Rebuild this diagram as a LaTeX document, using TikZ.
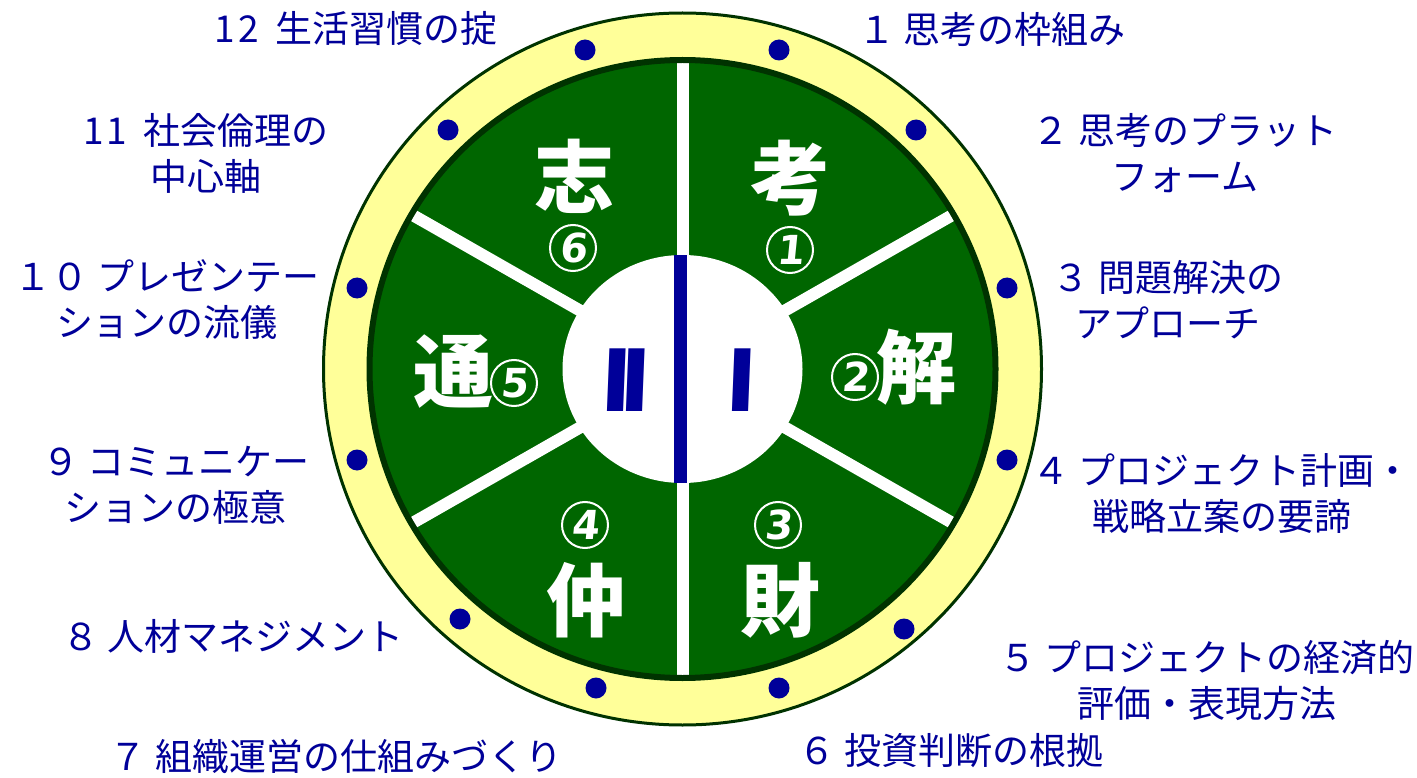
\documentclass[tikz,border=0pt]{standalone}
\usepackage{fontspec}
\newfontfamily\jp{Noto Sans CJK JP}
\newfontfamily\romfont[FakeSlant=0.04]{DejaVu Sans}
\newfontfamily\numfont[FakeSlant=0.1]{DejaVu Sans}
\definecolor{navy}{RGB}{0,0,153}
\definecolor{leaf}{RGB}{0,102,0}
\definecolor{deep}{RGB}{0,51,0}
\definecolor{cream}{RGB}{255,255,153}
\begin{document}
\begin{tikzpicture}[x=1pt,y=-1pt,
  lbl/.style={font=\jp\fontsize{37}{46}\selectfont, text=navy, align=center, inner sep=0pt},
  big/.style={font=\jp\bfseries\fontsize{80}{80}\selectfont, text=white, inner sep=0pt},
  num/.style={circle, draw=white, line width=2pt, minimum size=46pt, inner sep=0pt, text=white, font=\numfont\bfseries\fontsize{40}{40}\selectfont},
  dot/.style={circle, fill=navy, minimum size=21pt, inner sep=0pt},
  spoke/.style={draw=white, line width=12pt},
  roman/.style={font=\romfont\bfseries\fontsize{86}{86}\selectfont, text=navy, inner sep=0pt},
]
\useasboundingbox (0,0) rectangle (1417,778);
\fill[white] (0,0) rectangle (1417,778);
% outer ring
\draw[fill=cream, draw=deep, line width=3pt] (682.5,369) ellipse [x radius=359, y radius=356];
% green disk
\fill[leaf] (682.5,369) ellipse [x radius=313, y radius=309];
% spokes
\draw[spoke] (682.5,60) -- (682.5,678);
\draw[spoke] (682.5,369) -- (956,213);
\draw[spoke] (682.5,369) -- (956,525);
\draw[spoke] (682.5,369) -- (409,213);
\draw[spoke] (682.5,369) -- (409,525);
% dark border of green disk
\draw[deep, line width=6pt] (682.5,369) ellipse [x radius=313, y radius=309];
% centre
\fill[white] (682.5,369) ellipse [x radius=120, y radius=114];
\fill[navy] (674,255) rectangle (687,483);
\node[roman] (two) at (625,380) {I\kern-13pt I};
\node[roman] (one) at (740,380) {I};
% sector characters
\node[big] (k1) at (790,178) {考};
\node[num] (n1) at (790,250) {1};
\node[big] (k2) at (916,367) {解};
\node[num] (n2) at (855,377) {2};
\node[num] (n3) at (778,525) {3};
\node[big] (k3) at (780,600) {財};
\node[num] (n4) at (585,525) {4};
\node[big] (k4) at (586,600) {仲};
\node[big] (k5) at (453,372) {通};
\node[num] (n5) at (514,383) {5};
\node[big] (k6) at (574,176) {志};
\node[num] (n6) at (573,248) {6};
% dots
\node[dot] (d1) at (585,50) {};
\node[dot] (d2) at (779,50) {};
\node[dot] (d3) at (916,130) {};
\node[dot] (d4) at (1007,288) {};
\node[dot] (d5) at (1007,460) {};
\node[dot] (d6) at (904,629) {};
\node[dot] (d7) at (779,688) {};
\node[dot] (d8) at (596,688) {};
\node[dot] (d9) at (460,619) {};
\node[dot] (d10) at (357,460) {};
\node[dot] (d11) at (357,288) {};
\node[dot] (d12) at (448,130) {};
% labels
\node[lbl] (l1) at (992,29) {１ 思考の枠組み};
\node[lbl] (l2) at (1185,153) {２ 思考のプラット\\フォーム};
\node[lbl] (l3) at (1168,300) {３ 問題解決の\\アプローチ};
\node[lbl] (l4) at (1222,494) {４ プロジェクト計画・\\戦略立案の要諦};
\node[lbl] (l5) at (1207,680) {５ プロジェクトの経済的\\評価・表現方法};
\node[lbl] (l6) at (951,751) {６ 投資判断の根拠};
\node[lbl] (l7) at (336,757) {７ 組織運営の仕組みづくり};
\node[lbl] (l8) at (233,636) {８ 人材マネジメント};
\node[lbl] (l9) at (176,485) {９ コミュニケー\\ションの極意};
\node[lbl] (l10) at (167,300) {１０ プレゼンテー\\ションの流儀};
\node[lbl] (l11) at (206,153) {1\kern3pt 1\kern16pt 社会倫理の\\中心軸};
\node[lbl] (l12) at (356,28) {1\kern3pt 2\kern16pt 生活習慣の掟};
\end{tikzpicture}
\end{document}
